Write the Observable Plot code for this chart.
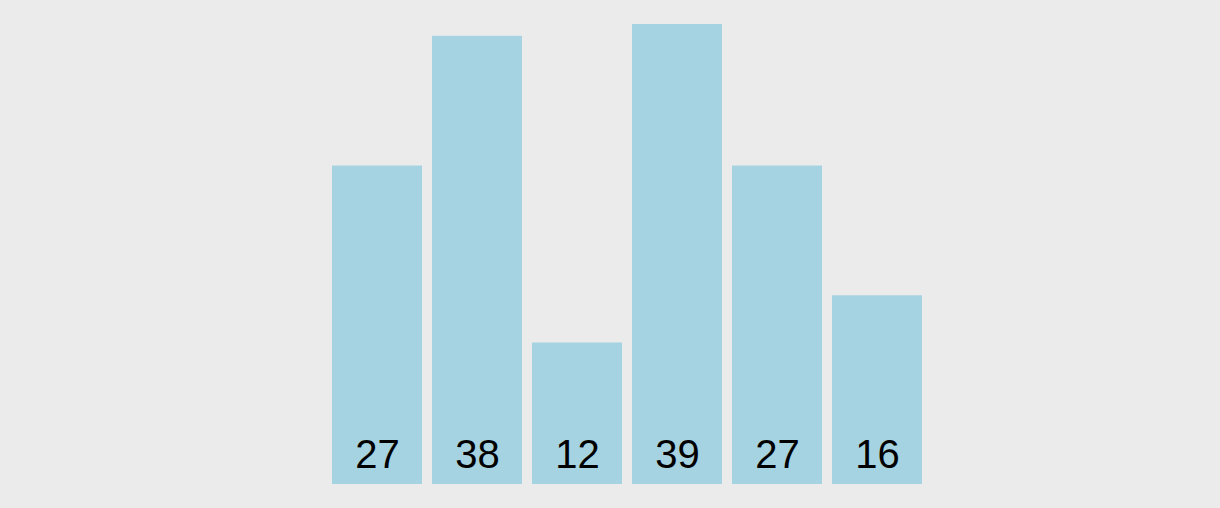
<!DOCTYPE html>
<html>
<head>
<meta charset="utf-8">
<script src="https://cdn.jsdelivr.net/npm/d3@7"></script>
<script src="https://cdn.jsdelivr.net/npm/@observablehq/plot@0.6"></script>
<style>
  html, body { margin: 0; padding: 0; background: #ebebeb; }
  #chart svg { display: block; }
</style>
</head>
<body>
<div id="chart"></div>
<script>
const categories = ["a", "b", "c", "d", "e", "f"];
const values = [27, 38, 12, 39, 27, 16];

const data = categories.map((c, i) => ({category: c, value: values[i]}));

const chart = Plot.plot({
  width: 1220,
  height: 508,
  marginLeft: 327,
  marginRight: 293,
  marginTop: 24,
  marginBottom: 24,
  style: {background: "#ebebeb", fontFamily: "Liberation Sans, Arial, sans-serif"},
  x: {domain: categories, paddingInner: 0.1, paddingOuter: 0.05, axis: null},
  y: {domain: [0, 39], axis: null},
  marks: [
    Plot.barY(data, {x: "category", y: "value", fill: "#a6d3e1"}),
    Plot.text(data, {
      x: "category",
      y: 0,
      text: d => String(d.value),
      dy: -29,
      fontSize: 40,
      fill: "#000",
      textAnchor: "middle"
    })
  ]
});
document.getElementById("chart").appendChild(chart);
</script>
</body>
</html>
